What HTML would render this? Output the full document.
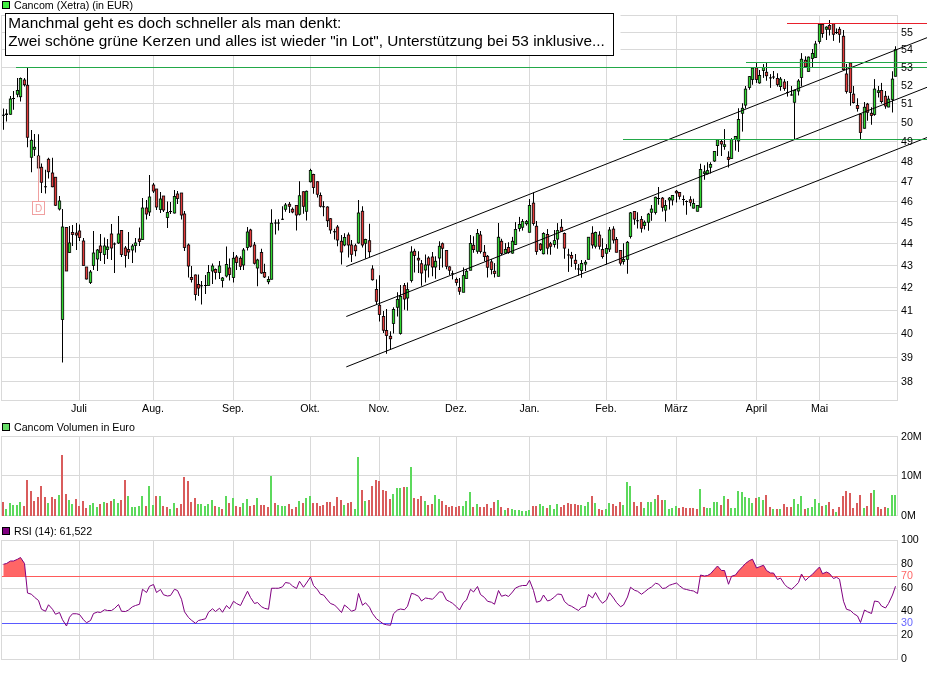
<!DOCTYPE html>
<html><head><meta charset="utf-8"><title>Chart</title>
<style>
html,body{margin:0;padding:0;background:#fff;}
body{width:927px;height:674px;position:relative;overflow:hidden;font-family:"Liberation Sans",sans-serif;}
svg text{font-family:"Liberation Sans",sans-serif;}
</style></head><body>
<svg width="927" height="674" viewBox="0 0 927 674" style="position:absolute;left:0;top:0;will-change:transform">
<rect width="927" height="674" fill="#fff"/>
<g stroke="#d9d9d9" stroke-width="1" fill="none" shape-rendering="crispEdges">
<rect x="1.5" y="15.5" width="896.0" height="385.0"/>
<line x1="79.5" y1="15.5" x2="79.5" y2="400.5"/>
<line x1="153.5" y1="15.5" x2="153.5" y2="400.5"/>
<line x1="233.5" y1="15.5" x2="233.5" y2="400.5"/>
<line x1="310.5" y1="15.5" x2="310.5" y2="400.5"/>
<line x1="379.5" y1="15.5" x2="379.5" y2="400.5"/>
<line x1="456.5" y1="15.5" x2="456.5" y2="400.5"/>
<line x1="529.5" y1="15.5" x2="529.5" y2="400.5"/>
<line x1="606.5" y1="15.5" x2="606.5" y2="400.5"/>
<line x1="676.5" y1="15.5" x2="676.5" y2="400.5"/>
<line x1="756.5" y1="15.5" x2="756.5" y2="400.5"/>
<line x1="819.5" y1="15.5" x2="819.5" y2="400.5"/>
<line x1="1.5" y1="381.5" x2="897.5" y2="381.5"/>
<line x1="1.5" y1="357.5" x2="897.5" y2="357.5"/>
<line x1="1.5" y1="333.5" x2="897.5" y2="333.5"/>
<line x1="1.5" y1="310.5" x2="897.5" y2="310.5"/>
<line x1="1.5" y1="287.5" x2="897.5" y2="287.5"/>
<line x1="1.5" y1="265.5" x2="897.5" y2="265.5"/>
<line x1="1.5" y1="243.5" x2="897.5" y2="243.5"/>
<line x1="1.5" y1="222.5" x2="897.5" y2="222.5"/>
<line x1="1.5" y1="201.5" x2="897.5" y2="201.5"/>
<line x1="1.5" y1="181.5" x2="897.5" y2="181.5"/>
<line x1="1.5" y1="161.5" x2="897.5" y2="161.5"/>
<line x1="1.5" y1="141.5" x2="897.5" y2="141.5"/>
<line x1="1.5" y1="122.5" x2="897.5" y2="122.5"/>
<line x1="1.5" y1="103.5" x2="897.5" y2="103.5"/>
<line x1="1.5" y1="85.5" x2="897.5" y2="85.5"/>
<line x1="1.5" y1="67.5" x2="897.5" y2="67.5"/>
<line x1="1.5" y1="49.5" x2="897.5" y2="49.5"/>
<line x1="1.5" y1="32.5" x2="897.5" y2="32.5"/>
</g>
<g stroke="#d9d9d9" stroke-width="1" fill="none" shape-rendering="crispEdges">
<rect x="1.5" y="436.5" width="896.0" height="79.0"/>
<line x1="79.5" y1="436.5" x2="79.5" y2="515.5"/>
<line x1="153.5" y1="436.5" x2="153.5" y2="515.5"/>
<line x1="233.5" y1="436.5" x2="233.5" y2="515.5"/>
<line x1="310.5" y1="436.5" x2="310.5" y2="515.5"/>
<line x1="379.5" y1="436.5" x2="379.5" y2="515.5"/>
<line x1="456.5" y1="436.5" x2="456.5" y2="515.5"/>
<line x1="529.5" y1="436.5" x2="529.5" y2="515.5"/>
<line x1="606.5" y1="436.5" x2="606.5" y2="515.5"/>
<line x1="676.5" y1="436.5" x2="676.5" y2="515.5"/>
<line x1="756.5" y1="436.5" x2="756.5" y2="515.5"/>
<line x1="819.5" y1="436.5" x2="819.5" y2="515.5"/>
<line x1="1.5" y1="475.5" x2="897.5" y2="475.5"/>
</g>
<g stroke="#d9d9d9" stroke-width="1" fill="none" shape-rendering="crispEdges">
<rect x="1.5" y="540.5" width="896.0" height="119.0"/>
<line x1="79.5" y1="540.5" x2="79.5" y2="659.5"/>
<line x1="153.5" y1="540.5" x2="153.5" y2="659.5"/>
<line x1="233.5" y1="540.5" x2="233.5" y2="659.5"/>
<line x1="310.5" y1="540.5" x2="310.5" y2="659.5"/>
<line x1="379.5" y1="540.5" x2="379.5" y2="659.5"/>
<line x1="456.5" y1="540.5" x2="456.5" y2="659.5"/>
<line x1="529.5" y1="540.5" x2="529.5" y2="659.5"/>
<line x1="606.5" y1="540.5" x2="606.5" y2="659.5"/>
<line x1="676.5" y1="540.5" x2="676.5" y2="659.5"/>
<line x1="756.5" y1="540.5" x2="756.5" y2="659.5"/>
<line x1="819.5" y1="540.5" x2="819.5" y2="659.5"/>
<line x1="1.5" y1="635.5" x2="897.5" y2="635.5"/>
<line x1="1.5" y1="611.5" x2="897.5" y2="611.5"/>
<line x1="1.5" y1="588.5" x2="897.5" y2="588.5"/>
<line x1="1.5" y1="564.5" x2="897.5" y2="564.5"/>
</g>
<g stroke="#000" stroke-width="1">
<line x1="3.5" y1="108.50" x2="3.5" y2="129.75"/>
<line x1="2.0" y1="115.25" x2="5.0" y2="115.25" stroke-width="1.00"/>
<line x1="6.5" y1="109.25" x2="6.5" y2="121.50"/>
<line x1="5.0" y1="114.25" x2="8.0" y2="114.25" stroke-width="1.50"/>
<line x1="10.5" y1="96.00" x2="10.5" y2="114.75"/>
<rect x="9.3" y="99.00" width="2.4" height="15.25" fill="#2fd62f" stroke-width="0.8"/>
<line x1="13.5" y1="91.00" x2="13.5" y2="109.75"/>
<line x1="12.0" y1="98.50" x2="15.0" y2="98.50" stroke-width="1.00"/>
<line x1="17.5" y1="78.00" x2="17.5" y2="97.25"/>
<rect x="16.3" y="90.50" width="2.4" height="3.75" fill="#2fd62f" stroke-width="0.8"/>
<line x1="20.5" y1="77.50" x2="20.5" y2="101.50"/>
<rect x="19.3" y="78.50" width="2.4" height="18.25" fill="#2fd62f" stroke-width="0.8"/>
<line x1="24.5" y1="78.00" x2="24.5" y2="86.50"/>
<rect x="23.3" y="80.00" width="2.4" height="4.75" fill="#e23a3a" stroke-width="0.8"/>
<line x1="27.5" y1="67.25" x2="27.5" y2="147.25"/>
<rect x="26.3" y="85.25" width="2.4" height="52.00" fill="#e23a3a" stroke-width="0.8"/>
<line x1="31.5" y1="130.00" x2="31.5" y2="172.25"/>
<rect x="30.3" y="140.25" width="2.4" height="17.00" fill="#2fd62f" stroke-width="0.8"/>
<line x1="34.5" y1="134.00" x2="34.5" y2="156.00"/>
<rect x="33.3" y="147.25" width="2.4" height="2.00" fill="#2fd62f" stroke-width="0.8"/>
<line x1="38.5" y1="134.25" x2="38.5" y2="168.50"/>
<rect x="37.3" y="156.00" width="2.4" height="12.00" fill="#e23a3a" stroke-width="0.8"/>
<line x1="41.5" y1="163.50" x2="41.5" y2="193.00"/>
<rect x="40.3" y="167.25" width="2.4" height="15.00" fill="#e23a3a" stroke-width="0.8"/>
<line x1="45.5" y1="169.75" x2="45.5" y2="193.50"/>
<line x1="44.0" y1="186.75" x2="47.0" y2="186.75" stroke-width="1.00"/>
<line x1="48.5" y1="157.75" x2="48.5" y2="178.50"/>
<rect x="47.3" y="159.25" width="2.4" height="12.50" fill="#e23a3a" stroke-width="0.8"/>
<line x1="52.5" y1="157.75" x2="52.5" y2="187.25"/>
<rect x="51.3" y="173.00" width="2.4" height="13.75" fill="#e23a3a" stroke-width="0.8"/>
<line x1="55.5" y1="177.25" x2="55.5" y2="206.00"/>
<rect x="54.3" y="177.25" width="2.4" height="28.00" fill="#e23a3a" stroke-width="0.8"/>
<line x1="59.5" y1="196.00" x2="59.5" y2="210.50"/>
<rect x="58.3" y="201.00" width="2.4" height="8.00" fill="#2fd62f" stroke-width="0.8"/>
<line x1="62.5" y1="209.00" x2="62.5" y2="362.50"/>
<rect x="61.3" y="227.00" width="2.4" height="92.50" fill="#2fd62f" stroke-width="0.8"/>
<line x1="66.5" y1="227.50" x2="66.5" y2="271.00"/>
<rect x="65.3" y="227.50" width="2.4" height="43.50" fill="#e23a3a" stroke-width="0.8"/>
<line x1="69.5" y1="226.00" x2="69.5" y2="253.00"/>
<rect x="68.3" y="243.00" width="2.4" height="9.50" fill="#2fd62f" stroke-width="0.8"/>
<line x1="72.5" y1="225.00" x2="72.5" y2="246.00"/>
<rect x="71.3" y="232.50" width="2.4" height="2.00" fill="#e23a3a" stroke-width="0.8"/>
<line x1="76.5" y1="223.00" x2="76.5" y2="250.00"/>
<rect x="75.3" y="233.00" width="2.4" height="2.00" fill="#e23a3a" stroke-width="0.8"/>
<line x1="79.5" y1="224.50" x2="79.5" y2="241.00"/>
<rect x="78.3" y="231.00" width="2.4" height="6.50" fill="#e23a3a" stroke-width="0.8"/>
<line x1="83.5" y1="238.00" x2="83.5" y2="265.50"/>
<rect x="82.3" y="241.00" width="2.4" height="24.50" fill="#e23a3a" stroke-width="0.8"/>
<line x1="86.5" y1="267.00" x2="86.5" y2="279.50"/>
<rect x="85.3" y="267.00" width="2.4" height="12.00" fill="#e23a3a" stroke-width="0.8"/>
<line x1="90.5" y1="270.00" x2="90.5" y2="284.00"/>
<rect x="89.3" y="272.00" width="2.4" height="10.50" fill="#2fd62f" stroke-width="0.8"/>
<line x1="93.5" y1="231.00" x2="93.5" y2="270.00"/>
<rect x="92.3" y="253.00" width="2.4" height="12.50" fill="#2fd62f" stroke-width="0.8"/>
<line x1="97.5" y1="249.00" x2="97.5" y2="271.00"/>
<rect x="96.3" y="250.00" width="2.4" height="9.00" fill="#2fd62f" stroke-width="0.8"/>
<line x1="100.5" y1="234.00" x2="100.5" y2="261.00"/>
<rect x="99.3" y="246.00" width="2.4" height="6.50" fill="#e23a3a" stroke-width="0.8"/>
<line x1="104.5" y1="237.50" x2="104.5" y2="264.00"/>
<rect x="103.3" y="246.00" width="2.4" height="8.50" fill="#2fd62f" stroke-width="0.8"/>
<line x1="107.5" y1="239.00" x2="107.5" y2="259.00"/>
<rect x="106.3" y="247.00" width="2.4" height="2.50" fill="#2fd62f" stroke-width="0.8"/>
<line x1="111.5" y1="224.00" x2="111.5" y2="260.00"/>
<rect x="110.3" y="234.00" width="2.4" height="14.00" fill="#e23a3a" stroke-width="0.8"/>
<line x1="114.5" y1="242.50" x2="114.5" y2="273.00"/>
<line x1="113.0" y1="244.00" x2="116.0" y2="244.00" stroke-width="1.00"/>
<line x1="118.5" y1="216.00" x2="118.5" y2="244.00"/>
<rect x="117.3" y="234.00" width="2.4" height="9.00" fill="#2fd62f" stroke-width="0.8"/>
<line x1="121.5" y1="230.00" x2="121.5" y2="257.00"/>
<rect x="120.3" y="230.50" width="2.4" height="24.00" fill="#e23a3a" stroke-width="0.8"/>
<line x1="125.5" y1="246.00" x2="125.5" y2="267.50"/>
<rect x="124.3" y="248.00" width="2.4" height="7.50" fill="#e23a3a" stroke-width="0.8"/>
<line x1="128.5" y1="232.00" x2="128.5" y2="259.00"/>
<rect x="127.3" y="249.50" width="2.4" height="2.50" fill="#e23a3a" stroke-width="0.8"/>
<line x1="132.5" y1="244.00" x2="132.5" y2="263.00"/>
<rect x="131.3" y="246.00" width="2.4" height="4.00" fill="#2fd62f" stroke-width="0.8"/>
<line x1="135.5" y1="238.00" x2="135.5" y2="252.50"/>
<rect x="134.3" y="243.00" width="2.4" height="2.50" fill="#2fd62f" stroke-width="0.8"/>
<line x1="139.5" y1="227.50" x2="139.5" y2="246.00"/>
<rect x="138.3" y="239.00" width="2.4" height="2.50" fill="#e23a3a" stroke-width="0.8"/>
<line x1="142.5" y1="198.00" x2="142.5" y2="240.00"/>
<rect x="141.3" y="208.00" width="2.4" height="31.50" fill="#2fd62f" stroke-width="0.8"/>
<line x1="146.5" y1="200.00" x2="146.5" y2="219.50"/>
<rect x="145.3" y="208.00" width="2.4" height="6.00" fill="#e23a3a" stroke-width="0.8"/>
<line x1="149.5" y1="175.00" x2="149.5" y2="216.00"/>
<rect x="148.3" y="197.00" width="2.4" height="15.00" fill="#2fd62f" stroke-width="0.8"/>
<line x1="153.5" y1="183.00" x2="153.5" y2="193.00"/>
<rect x="152.3" y="185.00" width="2.4" height="6.00" fill="#e23a3a" stroke-width="0.8"/>
<line x1="156.5" y1="189.00" x2="156.5" y2="210.00"/>
<rect x="155.3" y="189.00" width="2.4" height="18.00" fill="#e23a3a" stroke-width="0.8"/>
<line x1="160.5" y1="192.00" x2="160.5" y2="213.00"/>
<rect x="159.3" y="199.00" width="2.4" height="10.50" fill="#2fd62f" stroke-width="0.8"/>
<line x1="163.5" y1="196.00" x2="163.5" y2="212.00"/>
<rect x="162.3" y="196.00" width="2.4" height="14.00" fill="#e23a3a" stroke-width="0.8"/>
<line x1="167.5" y1="201.50" x2="167.5" y2="228.00"/>
<rect x="166.3" y="212.50" width="2.4" height="5.00" fill="#2fd62f" stroke-width="0.8"/>
<line x1="170.5" y1="202.00" x2="170.5" y2="214.00"/>
<line x1="169.0" y1="211.50" x2="172.0" y2="211.50" stroke-width="1.00"/>
<line x1="174.5" y1="190.00" x2="174.5" y2="213.50"/>
<rect x="173.3" y="196.50" width="2.4" height="16.50" fill="#2fd62f" stroke-width="0.8"/>
<line x1="177.5" y1="191.00" x2="177.5" y2="204.00"/>
<rect x="176.3" y="194.00" width="2.4" height="4.50" fill="#e23a3a" stroke-width="0.8"/>
<line x1="181.5" y1="193.00" x2="181.5" y2="219.50"/>
<rect x="180.3" y="193.00" width="2.4" height="22.00" fill="#e23a3a" stroke-width="0.8"/>
<line x1="184.5" y1="211.00" x2="184.5" y2="251.00"/>
<rect x="183.3" y="214.00" width="2.4" height="33.50" fill="#e23a3a" stroke-width="0.8"/>
<line x1="188.5" y1="243.50" x2="188.5" y2="277.50"/>
<rect x="187.3" y="245.00" width="2.4" height="21.00" fill="#e23a3a" stroke-width="0.8"/>
<line x1="191.5" y1="266.00" x2="191.5" y2="282.50"/>
<rect x="190.3" y="277.50" width="2.4" height="2.00" fill="#e23a3a" stroke-width="0.8"/>
<line x1="195.5" y1="274.50" x2="195.5" y2="300.50"/>
<rect x="194.3" y="275.00" width="2.4" height="19.50" fill="#e23a3a" stroke-width="0.8"/>
<line x1="198.5" y1="274.50" x2="198.5" y2="296.00"/>
<rect x="197.3" y="284.50" width="2.4" height="3.50" fill="#e23a3a" stroke-width="0.8"/>
<line x1="201.5" y1="281.00" x2="201.5" y2="304.50"/>
<line x1="200.0" y1="285.75" x2="203.0" y2="285.75" stroke-width="1.00"/>
<line x1="205.5" y1="275.00" x2="205.5" y2="294.00"/>
<line x1="204.0" y1="285.50" x2="207.0" y2="285.50" stroke-width="1.00"/>
<line x1="208.5" y1="265.00" x2="208.5" y2="285.50"/>
<rect x="207.3" y="272.50" width="2.4" height="13.00" fill="#2fd62f" stroke-width="0.8"/>
<line x1="212.5" y1="263.50" x2="212.5" y2="284.00"/>
<rect x="211.3" y="266.00" width="2.4" height="5.00" fill="#2fd62f" stroke-width="0.8"/>
<line x1="215.5" y1="268.50" x2="215.5" y2="279.50"/>
<rect x="214.3" y="269.50" width="2.4" height="3.00" fill="#e23a3a" stroke-width="0.8"/>
<line x1="219.5" y1="261.00" x2="219.5" y2="279.00"/>
<rect x="218.3" y="266.00" width="2.4" height="6.50" fill="#2fd62f" stroke-width="0.8"/>
<line x1="222.5" y1="277.00" x2="222.5" y2="287.50"/>
<rect x="221.3" y="278.00" width="2.4" height="2.50" fill="#2fd62f" stroke-width="0.8"/>
<line x1="226.5" y1="246.50" x2="226.5" y2="277.50"/>
<rect x="225.3" y="264.50" width="2.4" height="11.50" fill="#2fd62f" stroke-width="0.8"/>
<line x1="229.5" y1="258.50" x2="229.5" y2="280.50"/>
<rect x="228.3" y="268.00" width="2.4" height="6.50" fill="#e23a3a" stroke-width="0.8"/>
<line x1="233.5" y1="252.00" x2="233.5" y2="282.50"/>
<rect x="232.3" y="258.25" width="2.4" height="19.25" fill="#2fd62f" stroke-width="0.8"/>
<line x1="236.5" y1="255.00" x2="236.5" y2="270.00"/>
<rect x="235.3" y="257.00" width="2.4" height="5.50" fill="#e23a3a" stroke-width="0.8"/>
<line x1="240.5" y1="256.25" x2="240.5" y2="270.00"/>
<rect x="239.3" y="258.25" width="2.4" height="8.00" fill="#e23a3a" stroke-width="0.8"/>
<line x1="243.5" y1="248.00" x2="243.5" y2="270.00"/>
<rect x="242.3" y="250.00" width="2.4" height="15.00" fill="#2fd62f" stroke-width="0.8"/>
<line x1="247.5" y1="227.00" x2="247.5" y2="250.50"/>
<rect x="246.3" y="232.00" width="2.4" height="15.50" fill="#2fd62f" stroke-width="0.8"/>
<line x1="250.5" y1="228.75" x2="250.5" y2="247.50"/>
<rect x="249.3" y="230.00" width="2.4" height="16.25" fill="#e23a3a" stroke-width="0.8"/>
<line x1="254.5" y1="242.00" x2="254.5" y2="264.50"/>
<rect x="253.3" y="245.00" width="2.4" height="18.25" fill="#e23a3a" stroke-width="0.8"/>
<line x1="257.5" y1="258.75" x2="257.5" y2="286.25"/>
<rect x="256.3" y="260.00" width="2.4" height="8.00" fill="#2fd62f" stroke-width="0.8"/>
<line x1="261.5" y1="248.75" x2="261.5" y2="273.75"/>
<rect x="260.3" y="252.50" width="2.4" height="20.50" fill="#e23a3a" stroke-width="0.8"/>
<line x1="264.5" y1="263.75" x2="264.5" y2="278.00"/>
<rect x="263.3" y="272.50" width="2.4" height="4.50" fill="#e23a3a" stroke-width="0.8"/>
<line x1="268.5" y1="276.25" x2="268.5" y2="284.25"/>
<rect x="267.3" y="279.50" width="2.4" height="2.25" fill="#2fd62f" stroke-width="0.8"/>
<line x1="271.5" y1="209.25" x2="271.5" y2="279.25"/>
<rect x="270.3" y="223.25" width="2.4" height="56.00" fill="#2fd62f" stroke-width="0.8"/>
<line x1="275.5" y1="219.50" x2="275.5" y2="234.50"/>
<line x1="274.0" y1="223.00" x2="277.0" y2="223.00" stroke-width="1.00"/>
<line x1="278.5" y1="219.25" x2="278.5" y2="230.50"/>
<line x1="277.0" y1="223.00" x2="280.0" y2="223.00" stroke-width="1.00"/>
<line x1="282.5" y1="206.25" x2="282.5" y2="220.00"/>
<line x1="281.0" y1="219.25" x2="284.0" y2="219.25" stroke-width="1.00"/>
<line x1="285.5" y1="203.00" x2="285.5" y2="211.75"/>
<rect x="284.3" y="205.00" width="2.4" height="4.25" fill="#2fd62f" stroke-width="0.8"/>
<line x1="289.5" y1="202.00" x2="289.5" y2="213.00"/>
<rect x="288.3" y="204.25" width="2.4" height="2.00" fill="#e23a3a" stroke-width="0.8"/>
<line x1="292.5" y1="207.50" x2="292.5" y2="213.25"/>
<rect x="291.3" y="209.25" width="2.4" height="2.75" fill="#e23a3a" stroke-width="0.8"/>
<line x1="296.5" y1="205.50" x2="296.5" y2="230.50"/>
<rect x="295.3" y="205.50" width="2.4" height="9.50" fill="#e23a3a" stroke-width="0.8"/>
<line x1="299.5" y1="181.25" x2="299.5" y2="215.50"/>
<rect x="298.3" y="195.75" width="2.4" height="18.50" fill="#2fd62f" stroke-width="0.8"/>
<line x1="303.5" y1="191.25" x2="303.5" y2="213.75"/>
<rect x="302.3" y="191.75" width="2.4" height="14.50" fill="#e23a3a" stroke-width="0.8"/>
<line x1="306.5" y1="190.50" x2="306.5" y2="220.50"/>
<rect x="305.3" y="191.25" width="2.4" height="20.00" fill="#2fd62f" stroke-width="0.8"/>
<line x1="310.5" y1="168.75" x2="310.5" y2="182.50"/>
<rect x="309.3" y="170.50" width="2.4" height="11.25" fill="#2fd62f" stroke-width="0.8"/>
<line x1="313.5" y1="173.75" x2="313.5" y2="193.75"/>
<rect x="312.3" y="174.50" width="2.4" height="13.00" fill="#e23a3a" stroke-width="0.8"/>
<line x1="317.5" y1="181.25" x2="317.5" y2="197.50"/>
<rect x="316.3" y="181.75" width="2.4" height="12.50" fill="#e23a3a" stroke-width="0.8"/>
<line x1="320.5" y1="192.50" x2="320.5" y2="207.50"/>
<rect x="319.3" y="195.50" width="2.4" height="10.75" fill="#e23a3a" stroke-width="0.8"/>
<line x1="323.5" y1="201.25" x2="323.5" y2="216.25"/>
<line x1="322.0" y1="206.75" x2="325.0" y2="206.75" stroke-width="1.00"/>
<line x1="327.5" y1="206.25" x2="327.5" y2="227.00"/>
<rect x="326.3" y="207.00" width="2.4" height="13.75" fill="#e23a3a" stroke-width="0.8"/>
<line x1="330.5" y1="218.00" x2="330.5" y2="233.75"/>
<rect x="329.3" y="218.75" width="2.4" height="11.25" fill="#e23a3a" stroke-width="0.8"/>
<line x1="334.5" y1="228.75" x2="334.5" y2="239.50"/>
<line x1="333.0" y1="231.75" x2="336.0" y2="231.75" stroke-width="1.00"/>
<line x1="337.5" y1="225.00" x2="337.5" y2="246.25"/>
<rect x="336.3" y="227.00" width="2.4" height="13.00" fill="#e23a3a" stroke-width="0.8"/>
<line x1="341.5" y1="235.00" x2="341.5" y2="264.50"/>
<rect x="340.3" y="241.25" width="2.4" height="10.75" fill="#e23a3a" stroke-width="0.8"/>
<line x1="344.5" y1="233.25" x2="344.5" y2="246.25"/>
<rect x="343.3" y="237.50" width="2.4" height="7.50" fill="#2fd62f" stroke-width="0.8"/>
<line x1="348.5" y1="232.50" x2="348.5" y2="257.50"/>
<rect x="347.3" y="235.00" width="2.4" height="10.00" fill="#e23a3a" stroke-width="0.8"/>
<line x1="351.5" y1="240.00" x2="351.5" y2="262.00"/>
<rect x="350.3" y="245.00" width="2.4" height="9.25" fill="#e23a3a" stroke-width="0.8"/>
<line x1="355.5" y1="243.75" x2="355.5" y2="256.25"/>
<rect x="354.3" y="245.75" width="2.4" height="5.00" fill="#e23a3a" stroke-width="0.8"/>
<line x1="358.5" y1="200.00" x2="358.5" y2="243.75"/>
<rect x="357.3" y="213.00" width="2.4" height="30.00" fill="#2fd62f" stroke-width="0.8"/>
<line x1="362.5" y1="206.25" x2="362.5" y2="247.50"/>
<rect x="361.3" y="211.25" width="2.4" height="33.75" fill="#e23a3a" stroke-width="0.8"/>
<line x1="365.5" y1="238.75" x2="365.5" y2="258.75"/>
<rect x="364.3" y="239.50" width="2.4" height="3.75" fill="#2fd62f" stroke-width="0.8"/>
<line x1="369.5" y1="223.75" x2="369.5" y2="257.50"/>
<rect x="368.3" y="240.75" width="2.4" height="11.00" fill="#e23a3a" stroke-width="0.8"/>
<line x1="372.5" y1="265.25" x2="372.5" y2="280.60"/>
<rect x="371.3" y="269.00" width="2.4" height="10.75" fill="#e23a3a" stroke-width="0.8"/>
<line x1="376.5" y1="279.40" x2="376.5" y2="304.40"/>
<rect x="375.3" y="289.40" width="2.4" height="11.85" fill="#e23a3a" stroke-width="0.8"/>
<line x1="379.5" y1="275.25" x2="379.5" y2="321.50"/>
<rect x="378.3" y="305.25" width="2.4" height="9.15" fill="#e23a3a" stroke-width="0.8"/>
<line x1="383.5" y1="311.00" x2="383.5" y2="333.00"/>
<rect x="382.3" y="316.50" width="2.4" height="13.70" fill="#e23a3a" stroke-width="0.8"/>
<line x1="386.5" y1="309.00" x2="386.5" y2="353.75"/>
<rect x="385.3" y="330.50" width="2.4" height="5.00" fill="#e23a3a" stroke-width="0.8"/>
<line x1="390.5" y1="331.25" x2="390.5" y2="349.40"/>
<rect x="389.3" y="336.25" width="2.4" height="2.50" fill="#e23a3a" stroke-width="0.8"/>
<line x1="393.5" y1="307.25" x2="393.5" y2="333.50"/>
<rect x="392.3" y="309.40" width="2.4" height="14.00" fill="#2fd62f" stroke-width="0.8"/>
<line x1="397.5" y1="292.25" x2="397.5" y2="316.50"/>
<rect x="396.3" y="299.40" width="2.4" height="7.85" fill="#2fd62f" stroke-width="0.8"/>
<line x1="400.5" y1="285.00" x2="400.5" y2="334.60"/>
<rect x="399.3" y="296.50" width="2.4" height="36.90" fill="#2fd62f" stroke-width="0.8"/>
<line x1="404.5" y1="283.00" x2="404.5" y2="309.75"/>
<rect x="403.3" y="285.60" width="2.4" height="13.40" fill="#e23a3a" stroke-width="0.8"/>
<line x1="407.5" y1="282.50" x2="407.5" y2="310.60"/>
<rect x="406.3" y="289.60" width="2.4" height="8.40" fill="#2fd62f" stroke-width="0.8"/>
<line x1="411.5" y1="246.25" x2="411.5" y2="282.50"/>
<rect x="410.3" y="252.00" width="2.4" height="28.50" fill="#2fd62f" stroke-width="0.8"/>
<line x1="414.5" y1="248.75" x2="414.5" y2="272.50"/>
<rect x="413.3" y="251.25" width="2.4" height="4.25" fill="#e23a3a" stroke-width="0.8"/>
<line x1="418.5" y1="251.25" x2="418.5" y2="273.00"/>
<rect x="417.3" y="258.25" width="2.4" height="1.75" fill="#e23a3a" stroke-width="0.8"/>
<line x1="421.5" y1="260.00" x2="421.5" y2="285.75"/>
<rect x="420.3" y="263.75" width="2.4" height="9.25" fill="#e23a3a" stroke-width="0.8"/>
<line x1="425.5" y1="254.50" x2="425.5" y2="282.50"/>
<rect x="424.3" y="265.00" width="2.4" height="5.00" fill="#2fd62f" stroke-width="0.8"/>
<line x1="428.5" y1="256.25" x2="428.5" y2="277.50"/>
<rect x="427.3" y="258.00" width="2.4" height="7.00" fill="#e23a3a" stroke-width="0.8"/>
<line x1="432.5" y1="252.00" x2="432.5" y2="276.25"/>
<rect x="431.3" y="257.00" width="2.4" height="10.00" fill="#e23a3a" stroke-width="0.8"/>
<line x1="435.5" y1="256.25" x2="435.5" y2="278.75"/>
<rect x="434.3" y="261.25" width="2.4" height="5.75" fill="#2fd62f" stroke-width="0.8"/>
<line x1="439.5" y1="241.25" x2="439.5" y2="270.00"/>
<rect x="438.3" y="246.25" width="2.4" height="11.75" fill="#2fd62f" stroke-width="0.8"/>
<line x1="442.5" y1="242.50" x2="442.5" y2="267.50"/>
<rect x="441.3" y="243.75" width="2.4" height="4.50" fill="#e23a3a" stroke-width="0.8"/>
<line x1="446.5" y1="250.50" x2="446.5" y2="269.25"/>
<rect x="445.3" y="250.50" width="2.4" height="15.75" fill="#e23a3a" stroke-width="0.8"/>
<line x1="449.5" y1="266.25" x2="449.5" y2="275.00"/>
<rect x="448.3" y="266.90" width="2.4" height="3.35" fill="#e23a3a" stroke-width="0.8"/>
<line x1="452.5" y1="270.60" x2="452.5" y2="279.40"/>
<line x1="451.0" y1="273.75" x2="454.0" y2="273.75" stroke-width="1.00"/>
<line x1="456.5" y1="277.50" x2="456.5" y2="285.60"/>
<rect x="455.3" y="279.40" width="2.4" height="3.10" fill="#e23a3a" stroke-width="0.8"/>
<line x1="459.5" y1="278.00" x2="459.5" y2="294.75"/>
<rect x="458.3" y="287.50" width="2.4" height="3.75" fill="#e23a3a" stroke-width="0.8"/>
<line x1="463.5" y1="267.50" x2="463.5" y2="292.25"/>
<rect x="462.3" y="275.60" width="2.4" height="16.65" fill="#2fd62f" stroke-width="0.8"/>
<line x1="466.5" y1="269.10" x2="466.5" y2="278.75"/>
<rect x="465.3" y="271.25" width="2.4" height="7.25" fill="#2fd62f" stroke-width="0.8"/>
<line x1="470.5" y1="235.00" x2="470.5" y2="270.25"/>
<rect x="469.3" y="243.50" width="2.4" height="26.75" fill="#2fd62f" stroke-width="0.8"/>
<line x1="473.5" y1="236.25" x2="473.5" y2="252.75"/>
<rect x="472.3" y="245.25" width="2.4" height="4.35" fill="#e23a3a" stroke-width="0.8"/>
<line x1="477.5" y1="229.00" x2="477.5" y2="253.75"/>
<rect x="476.3" y="233.50" width="2.4" height="17.75" fill="#2fd62f" stroke-width="0.8"/>
<line x1="480.5" y1="231.00" x2="480.5" y2="253.50"/>
<rect x="479.3" y="235.00" width="2.4" height="16.50" fill="#e23a3a" stroke-width="0.8"/>
<line x1="484.5" y1="245.00" x2="484.5" y2="261.25"/>
<rect x="483.3" y="252.25" width="2.4" height="4.35" fill="#e23a3a" stroke-width="0.8"/>
<line x1="487.5" y1="255.00" x2="487.5" y2="277.50"/>
<rect x="486.3" y="256.25" width="2.4" height="11.00" fill="#e23a3a" stroke-width="0.8"/>
<line x1="491.5" y1="259.00" x2="491.5" y2="274.40"/>
<rect x="490.3" y="261.90" width="2.4" height="7.50" fill="#e23a3a" stroke-width="0.8"/>
<line x1="494.5" y1="263.10" x2="494.5" y2="277.50"/>
<rect x="493.3" y="271.25" width="2.4" height="2.25" fill="#e23a3a" stroke-width="0.8"/>
<line x1="498.5" y1="223.00" x2="498.5" y2="276.50"/>
<rect x="497.3" y="237.25" width="2.4" height="39.00" fill="#2fd62f" stroke-width="0.8"/>
<line x1="501.5" y1="238.75" x2="501.5" y2="255.00"/>
<rect x="500.3" y="241.25" width="2.4" height="12.25" fill="#e23a3a" stroke-width="0.8"/>
<line x1="505.5" y1="243.10" x2="505.5" y2="253.75"/>
<rect x="504.3" y="249.40" width="2.4" height="3.70" fill="#2fd62f" stroke-width="0.8"/>
<line x1="508.5" y1="242.25" x2="508.5" y2="253.75"/>
<rect x="507.3" y="247.50" width="2.4" height="5.00" fill="#e23a3a" stroke-width="0.8"/>
<line x1="512.5" y1="236.90" x2="512.5" y2="253.75"/>
<rect x="511.3" y="241.25" width="2.4" height="11.85" fill="#2fd62f" stroke-width="0.8"/>
<line x1="515.5" y1="222.10" x2="515.5" y2="245.00"/>
<rect x="514.3" y="229.40" width="2.4" height="15.00" fill="#2fd62f" stroke-width="0.8"/>
<line x1="519.5" y1="216.90" x2="519.5" y2="231.50"/>
<rect x="518.3" y="224.40" width="2.4" height="4.10" fill="#2fd62f" stroke-width="0.8"/>
<line x1="522.5" y1="219.00" x2="522.5" y2="230.60"/>
<rect x="521.3" y="221.60" width="2.4" height="5.65" fill="#2fd62f" stroke-width="0.8"/>
<line x1="526.5" y1="220.00" x2="526.5" y2="225.60"/>
<rect x="525.3" y="221.60" width="2.4" height="2.15" fill="#2fd62f" stroke-width="0.8"/>
<line x1="529.5" y1="199.00" x2="529.5" y2="232.50"/>
<rect x="528.3" y="205.40" width="2.4" height="26.85" fill="#2fd62f" stroke-width="0.8"/>
<line x1="533.5" y1="192.50" x2="533.5" y2="225.60"/>
<rect x="532.3" y="203.10" width="2.4" height="20.40" fill="#e23a3a" stroke-width="0.8"/>
<line x1="536.5" y1="221.00" x2="536.5" y2="254.75"/>
<rect x="535.3" y="226.25" width="2.4" height="25.25" fill="#e23a3a" stroke-width="0.8"/>
<line x1="540.5" y1="243.10" x2="540.5" y2="251.00"/>
<rect x="539.3" y="244.10" width="2.4" height="5.30" fill="#e23a3a" stroke-width="0.8"/>
<line x1="543.5" y1="232.25" x2="543.5" y2="254.40"/>
<rect x="542.3" y="233.50" width="2.4" height="20.25" fill="#2fd62f" stroke-width="0.8"/>
<line x1="547.5" y1="229.10" x2="547.5" y2="254.40"/>
<rect x="546.3" y="234.40" width="2.4" height="13.70" fill="#e23a3a" stroke-width="0.8"/>
<line x1="550.5" y1="241.90" x2="550.5" y2="254.75"/>
<rect x="549.3" y="243.75" width="2.4" height="2.50" fill="#e23a3a" stroke-width="0.8"/>
<line x1="554.5" y1="230.00" x2="554.5" y2="247.50"/>
<rect x="553.3" y="240.60" width="2.4" height="3.80" fill="#2fd62f" stroke-width="0.8"/>
<line x1="557.5" y1="223.10" x2="557.5" y2="248.75"/>
<rect x="556.3" y="230.60" width="2.4" height="8.50" fill="#2fd62f" stroke-width="0.8"/>
<line x1="561.5" y1="219.10" x2="561.5" y2="231.90"/>
<rect x="560.3" y="227.25" width="2.4" height="4.00" fill="#e23a3a" stroke-width="0.8"/>
<line x1="564.5" y1="232.50" x2="564.5" y2="258.75"/>
<rect x="563.3" y="233.50" width="2.4" height="14.60" fill="#e23a3a" stroke-width="0.8"/>
<line x1="568.5" y1="248.75" x2="568.5" y2="271.90"/>
<line x1="567.0" y1="255.00" x2="570.0" y2="255.00" stroke-width="1.00"/>
<line x1="571.5" y1="251.90" x2="571.5" y2="266.90"/>
<rect x="570.3" y="255.40" width="2.4" height="2.70" fill="#e23a3a" stroke-width="0.8"/>
<line x1="575.5" y1="254.00" x2="575.5" y2="269.75"/>
<rect x="574.3" y="260.25" width="2.4" height="3.25" fill="#e23a3a" stroke-width="0.8"/>
<line x1="578.5" y1="264.10" x2="578.5" y2="275.60"/>
<line x1="577.0" y1="269.00" x2="580.0" y2="269.00" stroke-width="1.00"/>
<line x1="581.5" y1="260.00" x2="581.5" y2="277.75"/>
<rect x="580.3" y="263.50" width="2.4" height="6.90" fill="#2fd62f" stroke-width="0.8"/>
<line x1="585.5" y1="260.00" x2="585.5" y2="271.00"/>
<rect x="584.3" y="262.25" width="2.4" height="1.85" fill="#2fd62f" stroke-width="0.8"/>
<line x1="588.5" y1="237.25" x2="588.5" y2="259.30"/>
<rect x="587.3" y="237.25" width="2.4" height="22.05" fill="#2fd62f" stroke-width="0.8"/>
<line x1="592.5" y1="226.25" x2="592.5" y2="248.50"/>
<rect x="591.3" y="233.25" width="2.4" height="11.75" fill="#e23a3a" stroke-width="0.8"/>
<line x1="595.5" y1="231.60" x2="595.5" y2="248.50"/>
<rect x="594.3" y="232.50" width="2.4" height="13.75" fill="#2fd62f" stroke-width="0.8"/>
<line x1="599.5" y1="231.25" x2="599.5" y2="249.50"/>
<rect x="598.3" y="235.10" width="2.4" height="11.15" fill="#e23a3a" stroke-width="0.8"/>
<line x1="602.5" y1="238.25" x2="602.5" y2="258.60"/>
<rect x="601.3" y="249.50" width="2.4" height="7.10" fill="#e23a3a" stroke-width="0.8"/>
<line x1="606.5" y1="244.10" x2="606.5" y2="264.50"/>
<rect x="605.3" y="248.50" width="2.4" height="4.75" fill="#2fd62f" stroke-width="0.8"/>
<line x1="609.5" y1="227.00" x2="609.5" y2="252.00"/>
<rect x="608.3" y="230.00" width="2.4" height="19.10" fill="#2fd62f" stroke-width="0.8"/>
<line x1="613.5" y1="226.25" x2="613.5" y2="243.50"/>
<rect x="612.3" y="229.10" width="2.4" height="10.90" fill="#e23a3a" stroke-width="0.8"/>
<line x1="616.5" y1="237.00" x2="616.5" y2="252.25"/>
<rect x="615.3" y="239.50" width="2.4" height="12.75" fill="#e23a3a" stroke-width="0.8"/>
<line x1="620.5" y1="250.40" x2="620.5" y2="265.60"/>
<rect x="619.3" y="250.40" width="2.4" height="12.70" fill="#e23a3a" stroke-width="0.8"/>
<line x1="623.5" y1="243.25" x2="623.5" y2="264.60"/>
<rect x="622.3" y="259.50" width="2.4" height="1.90" fill="#2fd62f" stroke-width="0.8"/>
<line x1="627.5" y1="241.00" x2="627.5" y2="273.75"/>
<rect x="626.3" y="242.25" width="2.4" height="17.05" fill="#2fd62f" stroke-width="0.8"/>
<line x1="630.5" y1="212.00" x2="630.5" y2="238.50"/>
<rect x="629.3" y="212.90" width="2.4" height="23.70" fill="#2fd62f" stroke-width="0.8"/>
<line x1="634.5" y1="211.00" x2="634.5" y2="224.75"/>
<rect x="633.3" y="211.40" width="2.4" height="7.70" fill="#e23a3a" stroke-width="0.8"/>
<line x1="637.5" y1="212.25" x2="637.5" y2="228.50"/>
<line x1="636.0" y1="220.75" x2="639.0" y2="220.75" stroke-width="1.00"/>
<line x1="641.5" y1="216.00" x2="641.5" y2="232.60"/>
<rect x="640.3" y="219.50" width="2.4" height="8.75" fill="#e23a3a" stroke-width="0.8"/>
<line x1="644.5" y1="220.40" x2="644.5" y2="229.50"/>
<rect x="643.3" y="222.25" width="2.4" height="3.15" fill="#2fd62f" stroke-width="0.8"/>
<line x1="648.5" y1="212.90" x2="648.5" y2="230.75"/>
<rect x="647.3" y="214.10" width="2.4" height="8.15" fill="#2fd62f" stroke-width="0.8"/>
<line x1="651.5" y1="205.00" x2="651.5" y2="220.75"/>
<rect x="650.3" y="209.10" width="2.4" height="3.15" fill="#2fd62f" stroke-width="0.8"/>
<line x1="655.5" y1="196.60" x2="655.5" y2="214.50"/>
<rect x="654.3" y="197.25" width="2.4" height="15.25" fill="#2fd62f" stroke-width="0.8"/>
<line x1="658.5" y1="187.00" x2="658.5" y2="204.75"/>
<line x1="657.0" y1="198.50" x2="660.0" y2="198.50" stroke-width="1.00"/>
<line x1="662.5" y1="197.00" x2="662.5" y2="211.60"/>
<rect x="661.3" y="198.10" width="2.4" height="9.15" fill="#e23a3a" stroke-width="0.8"/>
<line x1="665.5" y1="200.00" x2="665.5" y2="221.60"/>
<rect x="664.3" y="205.40" width="2.4" height="4.70" fill="#2fd62f" stroke-width="0.8"/>
<line x1="669.5" y1="197.00" x2="669.5" y2="209.50"/>
<rect x="668.3" y="198.10" width="2.4" height="1.90" fill="#2fd62f" stroke-width="0.8"/>
<line x1="672.5" y1="195.00" x2="672.5" y2="205.40"/>
<rect x="671.3" y="195.40" width="2.4" height="4.60" fill="#2fd62f" stroke-width="0.8"/>
<line x1="676.5" y1="190.00" x2="676.5" y2="202.50"/>
<rect x="675.3" y="191.25" width="2.4" height="1.65" fill="#e23a3a" stroke-width="0.8"/>
<line x1="679.5" y1="192.25" x2="679.5" y2="199.50"/>
<rect x="678.3" y="192.50" width="2.4" height="3.75" fill="#e23a3a" stroke-width="0.8"/>
<line x1="683.5" y1="195.40" x2="683.5" y2="205.40"/>
<line x1="682.0" y1="199.50" x2="685.0" y2="199.50" stroke-width="1.00"/>
<line x1="686.5" y1="200.40" x2="686.5" y2="214.75"/>
<line x1="685.0" y1="201.50" x2="688.0" y2="201.50" stroke-width="1.00"/>
<line x1="690.5" y1="196.25" x2="690.5" y2="206.25"/>
<rect x="689.3" y="199.75" width="2.4" height="2.50" fill="#e23a3a" stroke-width="0.8"/>
<line x1="693.5" y1="198.75" x2="693.5" y2="208.50"/>
<rect x="692.3" y="203.50" width="2.4" height="4.60" fill="#2fd62f" stroke-width="0.8"/>
<line x1="697.5" y1="205.40" x2="697.5" y2="211.50"/>
<rect x="696.3" y="205.40" width="2.4" height="5.85" fill="#2fd62f" stroke-width="0.8"/>
<line x1="700.5" y1="163.75" x2="700.5" y2="207.50"/>
<rect x="699.3" y="169.40" width="2.4" height="37.85" fill="#2fd62f" stroke-width="0.8"/>
<line x1="704.5" y1="165.25" x2="704.5" y2="179.75"/>
<rect x="703.3" y="171.90" width="2.4" height="1.60" fill="#2fd62f" stroke-width="0.8"/>
<line x1="707.5" y1="162.25" x2="707.5" y2="174.40"/>
<rect x="706.3" y="170.60" width="2.4" height="3.15" fill="#2fd62f" stroke-width="0.8"/>
<line x1="710.5" y1="162.25" x2="710.5" y2="173.50"/>
<rect x="709.3" y="164.40" width="2.4" height="2.85" fill="#2fd62f" stroke-width="0.8"/>
<line x1="714.5" y1="151.00" x2="714.5" y2="161.90"/>
<rect x="713.3" y="151.50" width="2.4" height="9.50" fill="#2fd62f" stroke-width="0.8"/>
<line x1="717.5" y1="139.40" x2="717.5" y2="156.00"/>
<rect x="716.3" y="139.75" width="2.4" height="5.85" fill="#2fd62f" stroke-width="0.8"/>
<line x1="721.5" y1="140.00" x2="721.5" y2="156.00"/>
<rect x="720.3" y="141.50" width="2.4" height="2.50" fill="#e23a3a" stroke-width="0.8"/>
<line x1="724.5" y1="129.10" x2="724.5" y2="149.75"/>
<rect x="723.3" y="144.75" width="2.4" height="1.75" fill="#2fd62f" stroke-width="0.8"/>
<line x1="728.5" y1="151.25" x2="728.5" y2="167.50"/>
<rect x="727.3" y="157.25" width="2.4" height="2.15" fill="#e23a3a" stroke-width="0.8"/>
<line x1="731.5" y1="138.10" x2="731.5" y2="158.75"/>
<rect x="730.3" y="139.40" width="2.4" height="19.10" fill="#2fd62f" stroke-width="0.8"/>
<line x1="735.5" y1="136.00" x2="735.5" y2="150.60"/>
<rect x="734.3" y="136.50" width="2.4" height="2.90" fill="#2fd62f" stroke-width="0.8"/>
<line x1="738.5" y1="108.25" x2="738.5" y2="151.90"/>
<rect x="737.3" y="119.50" width="2.4" height="21.50" fill="#2fd62f" stroke-width="0.8"/>
<line x1="742.5" y1="103.25" x2="742.5" y2="131.60"/>
<rect x="741.3" y="108.25" width="2.4" height="5.00" fill="#2fd62f" stroke-width="0.8"/>
<line x1="745.5" y1="86.00" x2="745.5" y2="108.50"/>
<rect x="744.3" y="89.10" width="2.4" height="16.00" fill="#2fd62f" stroke-width="0.8"/>
<line x1="749.5" y1="76.00" x2="749.5" y2="89.75"/>
<rect x="748.3" y="76.60" width="2.4" height="10.90" fill="#2fd62f" stroke-width="0.8"/>
<line x1="752.5" y1="67.90" x2="752.5" y2="84.75"/>
<rect x="751.3" y="68.10" width="2.4" height="11.40" fill="#2fd62f" stroke-width="0.8"/>
<line x1="756.5" y1="62.90" x2="756.5" y2="82.90"/>
<rect x="755.3" y="67.90" width="2.4" height="11.60" fill="#e23a3a" stroke-width="0.8"/>
<line x1="759.5" y1="70.00" x2="759.5" y2="83.75"/>
<rect x="758.3" y="75.40" width="2.4" height="7.50" fill="#2fd62f" stroke-width="0.8"/>
<line x1="763.5" y1="64.10" x2="763.5" y2="77.90"/>
<rect x="762.3" y="67.50" width="2.4" height="2.90" fill="#2fd62f" stroke-width="0.8"/>
<line x1="766.5" y1="62.90" x2="766.5" y2="80.75"/>
<rect x="765.3" y="72.25" width="2.4" height="3.50" fill="#e23a3a" stroke-width="0.8"/>
<line x1="770.5" y1="74.10" x2="770.5" y2="87.90"/>
<line x1="769.0" y1="77.90" x2="772.0" y2="77.90" stroke-width="1.00"/>
<line x1="773.5" y1="71.00" x2="773.5" y2="79.10"/>
<line x1="772.0" y1="77.00" x2="775.0" y2="77.00" stroke-width="1.00"/>
<line x1="777.5" y1="73.25" x2="777.5" y2="86.60"/>
<rect x="776.3" y="78.50" width="2.4" height="6.00" fill="#e23a3a" stroke-width="0.8"/>
<line x1="780.5" y1="77.00" x2="780.5" y2="90.75"/>
<rect x="779.3" y="79.10" width="2.4" height="7.50" fill="#2fd62f" stroke-width="0.8"/>
<line x1="784.5" y1="79.10" x2="784.5" y2="90.75"/>
<rect x="783.3" y="82.00" width="2.4" height="6.50" fill="#e23a3a" stroke-width="0.8"/>
<line x1="787.5" y1="81.00" x2="787.5" y2="96.60"/>
<line x1="786.0" y1="92.50" x2="789.0" y2="92.50" stroke-width="1.00"/>
<line x1="791.5" y1="86.00" x2="791.5" y2="95.75"/>
<line x1="790.0" y1="95.00" x2="793.0" y2="95.00" stroke-width="1.00"/>
<line x1="794.5" y1="89.75" x2="794.5" y2="139.40"/>
<rect x="793.3" y="90.40" width="2.4" height="11.85" fill="#2fd62f" stroke-width="0.8"/>
<line x1="798.5" y1="79.10" x2="798.5" y2="95.50"/>
<rect x="797.3" y="81.00" width="2.4" height="10.00" fill="#2fd62f" stroke-width="0.8"/>
<line x1="801.5" y1="53.10" x2="801.5" y2="86.50"/>
<rect x="800.3" y="59.25" width="2.4" height="18.25" fill="#2fd62f" stroke-width="0.8"/>
<line x1="805.5" y1="56.25" x2="805.5" y2="67.10"/>
<rect x="804.3" y="60.25" width="2.4" height="6.50" fill="#e23a3a" stroke-width="0.8"/>
<line x1="808.5" y1="56.50" x2="808.5" y2="71.60"/>
<rect x="807.3" y="57.10" width="2.4" height="14.30" fill="#2fd62f" stroke-width="0.8"/>
<line x1="812.5" y1="49.00" x2="812.5" y2="67.10"/>
<rect x="811.3" y="53.40" width="2.4" height="5.00" fill="#2fd62f" stroke-width="0.8"/>
<line x1="815.5" y1="40.90" x2="815.5" y2="57.75"/>
<rect x="814.3" y="44.00" width="2.4" height="13.50" fill="#2fd62f" stroke-width="0.8"/>
<line x1="819.5" y1="23.75" x2="819.5" y2="43.75"/>
<rect x="818.3" y="24.25" width="2.4" height="17.25" fill="#2fd62f" stroke-width="0.8"/>
<line x1="822.5" y1="23.75" x2="822.5" y2="37.75"/>
<rect x="821.3" y="24.25" width="2.4" height="9.15" fill="#e23a3a" stroke-width="0.8"/>
<line x1="826.5" y1="26.25" x2="826.5" y2="40.00"/>
<rect x="825.3" y="27.10" width="2.4" height="2.15" fill="#2fd62f" stroke-width="0.8"/>
<line x1="829.5" y1="20.00" x2="829.5" y2="35.50"/>
<rect x="828.3" y="25.50" width="2.4" height="3.75" fill="#e23a3a" stroke-width="0.8"/>
<line x1="833.5" y1="23.75" x2="833.5" y2="40.90"/>
<rect x="832.3" y="23.75" width="2.4" height="10.50" fill="#e23a3a" stroke-width="0.8"/>
<line x1="836.5" y1="28.40" x2="836.5" y2="34.00"/>
<line x1="835.0" y1="32.50" x2="838.0" y2="32.50" stroke-width="1.00"/>
<line x1="839.5" y1="26.90" x2="839.5" y2="42.75"/>
<rect x="838.3" y="29.25" width="2.4" height="5.00" fill="#e23a3a" stroke-width="0.8"/>
<line x1="843.5" y1="30.00" x2="843.5" y2="70.25"/>
<rect x="842.3" y="36.25" width="2.4" height="33.35" fill="#e23a3a" stroke-width="0.8"/>
<line x1="846.5" y1="64.00" x2="846.5" y2="93.60"/>
<rect x="845.3" y="74.00" width="2.4" height="17.40" fill="#e23a3a" stroke-width="0.8"/>
<line x1="850.5" y1="63.00" x2="850.5" y2="105.75"/>
<rect x="849.3" y="63.00" width="2.4" height="29.40" fill="#e23a3a" stroke-width="0.8"/>
<line x1="853.5" y1="86.00" x2="853.5" y2="103.50"/>
<rect x="852.3" y="94.10" width="2.4" height="8.50" fill="#e23a3a" stroke-width="0.8"/>
<line x1="857.5" y1="98.25" x2="857.5" y2="111.60"/>
<rect x="856.3" y="105.40" width="2.4" height="3.10" fill="#e23a3a" stroke-width="0.8"/>
<line x1="860.5" y1="113.50" x2="860.5" y2="139.10"/>
<rect x="859.3" y="114.10" width="2.4" height="18.40" fill="#e23a3a" stroke-width="0.8"/>
<line x1="864.5" y1="102.00" x2="864.5" y2="128.50"/>
<rect x="863.3" y="107.25" width="2.4" height="21.00" fill="#2fd62f" stroke-width="0.8"/>
<line x1="867.5" y1="102.90" x2="867.5" y2="120.75"/>
<rect x="866.3" y="104.10" width="2.4" height="8.15" fill="#e23a3a" stroke-width="0.8"/>
<line x1="871.5" y1="107.25" x2="871.5" y2="124.75"/>
<rect x="870.3" y="113.25" width="2.4" height="2.15" fill="#e23a3a" stroke-width="0.8"/>
<line x1="874.5" y1="79.10" x2="874.5" y2="115.75"/>
<rect x="873.3" y="89.10" width="2.4" height="25.40" fill="#2fd62f" stroke-width="0.8"/>
<line x1="878.5" y1="86.00" x2="878.5" y2="97.50"/>
<rect x="877.3" y="90.75" width="2.4" height="1.75" fill="#2fd62f" stroke-width="0.8"/>
<line x1="881.5" y1="82.90" x2="881.5" y2="103.50"/>
<rect x="880.3" y="90.40" width="2.4" height="11.20" fill="#e23a3a" stroke-width="0.8"/>
<line x1="885.5" y1="91.00" x2="885.5" y2="108.75"/>
<rect x="884.3" y="96.25" width="2.4" height="9.75" fill="#e23a3a" stroke-width="0.8"/>
<line x1="888.5" y1="95.75" x2="888.5" y2="107.25"/>
<rect x="887.3" y="99.10" width="2.4" height="7.90" fill="#2fd62f" stroke-width="0.8"/>
<line x1="892.5" y1="71.25" x2="892.5" y2="112.50"/>
<rect x="891.3" y="79.10" width="2.4" height="20.40" fill="#2fd62f" stroke-width="0.8"/>
<line x1="895.5" y1="46.25" x2="895.5" y2="76.50"/>
<rect x="894.3" y="49.60" width="2.4" height="26.65" fill="#2fd62f" stroke-width="0.8"/>
</g>
<g stroke="#000" stroke-width="1">
<line x1="346.3" y1="266.5" x2="927" y2="37.7"/>
<line x1="346.3" y1="316.5" x2="927" y2="87.3"/>
<line x1="346.3" y1="366.9" x2="927" y2="137.5"/>
</g>
<g stroke="#22a848" stroke-width="1" shape-rendering="crispEdges">
<line x1="16" y1="67.5" x2="927" y2="67.5"/>
<line x1="746" y1="62.5" x2="927" y2="62.5"/>
<line x1="623" y1="139.5" x2="927" y2="139.5"/>
</g>
<line x1="787" y1="23.5" x2="927" y2="23.5" stroke="#e8202c" stroke-width="1" shape-rendering="crispEdges"/>
<g stroke="#f0a0a0" fill="none" stroke-width="1" shape-rendering="crispEdges"><line x1="38.5" y1="156" x2="38.5" y2="201"/><rect x="32.5" y="201.5" width="12" height="13" fill="#fff"/></g>
<text x="38.5" y="212" font-size="10" fill="#f0a0a0" text-anchor="middle" >D</text>
<g shape-rendering="crispEdges">
<rect x="2" y="502" width="2" height="14" fill="#d95c5c"/>
<rect x="5" y="509" width="2" height="7" fill="#5cd95c"/>
<rect x="9" y="503" width="2" height="13" fill="#5cd95c"/>
<rect x="12" y="505" width="2" height="11" fill="#5cd95c"/>
<rect x="16" y="505" width="2" height="11" fill="#5cd95c"/>
<rect x="19" y="502" width="2" height="14" fill="#5cd95c"/>
<rect x="23" y="506" width="2" height="10" fill="#d95c5c"/>
<rect x="26" y="480" width="2" height="36" fill="#d95c5c"/>
<rect x="30" y="491" width="2" height="25" fill="#d95c5c"/>
<rect x="33" y="501" width="2" height="15" fill="#d95c5c"/>
<rect x="37" y="497" width="2" height="19" fill="#d95c5c"/>
<rect x="40" y="486" width="2" height="30" fill="#d95c5c"/>
<rect x="44" y="497" width="2" height="19" fill="#d95c5c"/>
<rect x="47" y="503" width="2" height="13" fill="#5cd95c"/>
<rect x="51" y="497" width="2" height="19" fill="#d95c5c"/>
<rect x="54" y="499" width="2" height="17" fill="#d95c5c"/>
<rect x="58" y="495" width="2" height="21" fill="#5cd95c"/>
<rect x="61" y="455" width="2" height="61" fill="#d95c5c"/>
<rect x="65" y="494" width="2" height="22" fill="#d95c5c"/>
<rect x="68" y="500" width="2" height="16" fill="#5cd95c"/>
<rect x="71" y="504" width="2" height="12" fill="#5cd95c"/>
<rect x="75" y="499" width="2" height="17" fill="#d95c5c"/>
<rect x="78" y="506" width="2" height="10" fill="#d95c5c"/>
<rect x="82" y="501" width="2" height="15" fill="#d95c5c"/>
<rect x="85" y="508" width="2" height="8" fill="#d95c5c"/>
<rect x="89" y="505" width="2" height="11" fill="#5cd95c"/>
<rect x="92" y="503" width="2" height="13" fill="#5cd95c"/>
<rect x="96" y="507" width="2" height="9" fill="#5cd95c"/>
<rect x="99" y="504" width="2" height="12" fill="#d95c5c"/>
<rect x="103" y="502" width="2" height="14" fill="#5cd95c"/>
<rect x="106" y="503" width="2" height="13" fill="#d95c5c"/>
<rect x="110" y="501" width="2" height="15" fill="#d95c5c"/>
<rect x="113" y="499" width="2" height="17" fill="#5cd95c"/>
<rect x="117" y="503" width="2" height="13" fill="#5cd95c"/>
<rect x="120" y="500" width="2" height="16" fill="#d95c5c"/>
<rect x="124" y="480" width="2" height="36" fill="#d95c5c"/>
<rect x="127" y="496" width="2" height="20" fill="#5cd95c"/>
<rect x="131" y="507" width="2" height="9" fill="#5cd95c"/>
<rect x="134" y="507" width="2" height="9" fill="#5cd95c"/>
<rect x="138" y="506" width="2" height="10" fill="#5cd95c"/>
<rect x="141" y="496" width="2" height="20" fill="#5cd95c"/>
<rect x="145" y="506" width="2" height="10" fill="#d95c5c"/>
<rect x="148" y="486" width="2" height="30" fill="#5cd95c"/>
<rect x="152" y="505" width="2" height="11" fill="#5cd95c"/>
<rect x="155" y="496" width="2" height="20" fill="#d95c5c"/>
<rect x="159" y="496" width="2" height="20" fill="#5cd95c"/>
<rect x="162" y="506" width="2" height="10" fill="#d95c5c"/>
<rect x="166" y="507" width="2" height="9" fill="#d95c5c"/>
<rect x="169" y="509" width="2" height="7" fill="#5cd95c"/>
<rect x="173" y="503" width="2" height="13" fill="#5cd95c"/>
<rect x="176" y="508" width="2" height="8" fill="#d95c5c"/>
<rect x="180" y="504" width="2" height="12" fill="#d95c5c"/>
<rect x="183" y="477" width="2" height="39" fill="#d95c5c"/>
<rect x="187" y="481" width="2" height="35" fill="#d95c5c"/>
<rect x="190" y="502" width="2" height="14" fill="#d95c5c"/>
<rect x="194" y="498" width="2" height="18" fill="#d95c5c"/>
<rect x="197" y="504" width="2" height="12" fill="#5cd95c"/>
<rect x="200" y="504" width="2" height="12" fill="#5cd95c"/>
<rect x="204" y="506" width="2" height="10" fill="#5cd95c"/>
<rect x="207" y="504" width="2" height="12" fill="#5cd95c"/>
<rect x="211" y="500" width="2" height="16" fill="#5cd95c"/>
<rect x="214" y="506" width="2" height="10" fill="#d95c5c"/>
<rect x="218" y="507" width="2" height="9" fill="#5cd95c"/>
<rect x="221" y="509" width="2" height="7" fill="#d95c5c"/>
<rect x="225" y="496" width="2" height="20" fill="#5cd95c"/>
<rect x="228" y="503" width="2" height="13" fill="#d95c5c"/>
<rect x="232" y="498" width="2" height="18" fill="#5cd95c"/>
<rect x="235" y="506" width="2" height="10" fill="#d95c5c"/>
<rect x="239" y="507" width="2" height="9" fill="#d95c5c"/>
<rect x="242" y="503" width="2" height="13" fill="#5cd95c"/>
<rect x="246" y="499" width="2" height="17" fill="#5cd95c"/>
<rect x="249" y="506" width="2" height="10" fill="#d95c5c"/>
<rect x="253" y="505" width="2" height="11" fill="#d95c5c"/>
<rect x="256" y="498" width="2" height="18" fill="#5cd95c"/>
<rect x="260" y="505" width="2" height="11" fill="#d95c5c"/>
<rect x="263" y="505" width="2" height="11" fill="#d95c5c"/>
<rect x="267" y="507" width="2" height="9" fill="#d95c5c"/>
<rect x="270" y="476" width="2" height="40" fill="#5cd95c"/>
<rect x="274" y="503" width="2" height="13" fill="#d95c5c"/>
<rect x="277" y="505" width="2" height="11" fill="#5cd95c"/>
<rect x="281" y="506" width="2" height="10" fill="#5cd95c"/>
<rect x="284" y="506" width="2" height="10" fill="#5cd95c"/>
<rect x="288" y="504" width="2" height="12" fill="#d95c5c"/>
<rect x="291" y="509" width="2" height="7" fill="#d95c5c"/>
<rect x="295" y="507" width="2" height="9" fill="#d95c5c"/>
<rect x="298" y="501" width="2" height="15" fill="#5cd95c"/>
<rect x="302" y="503" width="2" height="13" fill="#d95c5c"/>
<rect x="305" y="498" width="2" height="18" fill="#5cd95c"/>
<rect x="309" y="496" width="2" height="20" fill="#5cd95c"/>
<rect x="312" y="503" width="2" height="13" fill="#d95c5c"/>
<rect x="316" y="503" width="2" height="13" fill="#d95c5c"/>
<rect x="319" y="506" width="2" height="10" fill="#d95c5c"/>
<rect x="322" y="505" width="2" height="11" fill="#d95c5c"/>
<rect x="326" y="502" width="2" height="14" fill="#d95c5c"/>
<rect x="329" y="502" width="2" height="14" fill="#d95c5c"/>
<rect x="333" y="506" width="2" height="10" fill="#d95c5c"/>
<rect x="336" y="497" width="2" height="19" fill="#d95c5c"/>
<rect x="340" y="500" width="2" height="16" fill="#d95c5c"/>
<rect x="343" y="505" width="2" height="11" fill="#5cd95c"/>
<rect x="347" y="503" width="2" height="13" fill="#d95c5c"/>
<rect x="350" y="502" width="2" height="14" fill="#d95c5c"/>
<rect x="354" y="509" width="2" height="7" fill="#5cd95c"/>
<rect x="357" y="457" width="2" height="59" fill="#5cd95c"/>
<rect x="361" y="490" width="2" height="26" fill="#d95c5c"/>
<rect x="364" y="501" width="2" height="15" fill="#5cd95c"/>
<rect x="368" y="500" width="2" height="16" fill="#d95c5c"/>
<rect x="371" y="486" width="2" height="30" fill="#d95c5c"/>
<rect x="375" y="480" width="2" height="36" fill="#d95c5c"/>
<rect x="378" y="481" width="2" height="35" fill="#d95c5c"/>
<rect x="382" y="490" width="2" height="26" fill="#d95c5c"/>
<rect x="385" y="491" width="2" height="25" fill="#d95c5c"/>
<rect x="389" y="499" width="2" height="17" fill="#d95c5c"/>
<rect x="392" y="494" width="2" height="22" fill="#5cd95c"/>
<rect x="396" y="488" width="2" height="28" fill="#5cd95c"/>
<rect x="399" y="488" width="2" height="28" fill="#5cd95c"/>
<rect x="403" y="487" width="2" height="29" fill="#d95c5c"/>
<rect x="406" y="487" width="2" height="29" fill="#5cd95c"/>
<rect x="410" y="467" width="2" height="49" fill="#5cd95c"/>
<rect x="413" y="498" width="2" height="18" fill="#d95c5c"/>
<rect x="417" y="499" width="2" height="17" fill="#d95c5c"/>
<rect x="420" y="496" width="2" height="20" fill="#d95c5c"/>
<rect x="424" y="501" width="2" height="15" fill="#5cd95c"/>
<rect x="427" y="505" width="2" height="11" fill="#d95c5c"/>
<rect x="431" y="504" width="2" height="12" fill="#d95c5c"/>
<rect x="434" y="495" width="2" height="21" fill="#5cd95c"/>
<rect x="438" y="499" width="2" height="17" fill="#5cd95c"/>
<rect x="441" y="501" width="2" height="15" fill="#d95c5c"/>
<rect x="445" y="505" width="2" height="11" fill="#d95c5c"/>
<rect x="448" y="507" width="2" height="9" fill="#d95c5c"/>
<rect x="451" y="506" width="2" height="10" fill="#d95c5c"/>
<rect x="455" y="507" width="2" height="9" fill="#d95c5c"/>
<rect x="458" y="506" width="2" height="10" fill="#d95c5c"/>
<rect x="462" y="506" width="2" height="10" fill="#5cd95c"/>
<rect x="465" y="501" width="2" height="15" fill="#5cd95c"/>
<rect x="469" y="492" width="2" height="24" fill="#5cd95c"/>
<rect x="472" y="507" width="2" height="9" fill="#d95c5c"/>
<rect x="476" y="504" width="2" height="12" fill="#5cd95c"/>
<rect x="479" y="507" width="2" height="9" fill="#d95c5c"/>
<rect x="483" y="507" width="2" height="9" fill="#d95c5c"/>
<rect x="486" y="504" width="2" height="12" fill="#d95c5c"/>
<rect x="490" y="508" width="2" height="8" fill="#d95c5c"/>
<rect x="493" y="502" width="2" height="14" fill="#d95c5c"/>
<rect x="497" y="500" width="2" height="16" fill="#5cd95c"/>
<rect x="500" y="507" width="2" height="9" fill="#d95c5c"/>
<rect x="504" y="510" width="2" height="6" fill="#5cd95c"/>
<rect x="507" y="508" width="2" height="8" fill="#d95c5c"/>
<rect x="511" y="509" width="2" height="7" fill="#5cd95c"/>
<rect x="514" y="510" width="2" height="6" fill="#5cd95c"/>
<rect x="518" y="510" width="2" height="6" fill="#5cd95c"/>
<rect x="521" y="511" width="2" height="5" fill="#5cd95c"/>
<rect x="525" y="511" width="2" height="5" fill="#5cd95c"/>
<rect x="528" y="510" width="2" height="6" fill="#5cd95c"/>
<rect x="532" y="506" width="2" height="10" fill="#d95c5c"/>
<rect x="535" y="506" width="2" height="10" fill="#d95c5c"/>
<rect x="539" y="504" width="2" height="12" fill="#5cd95c"/>
<rect x="542" y="506" width="2" height="10" fill="#5cd95c"/>
<rect x="546" y="508" width="2" height="8" fill="#d95c5c"/>
<rect x="549" y="505" width="2" height="11" fill="#5cd95c"/>
<rect x="553" y="509" width="2" height="7" fill="#5cd95c"/>
<rect x="556" y="504" width="2" height="12" fill="#5cd95c"/>
<rect x="560" y="507" width="2" height="9" fill="#d95c5c"/>
<rect x="563" y="505" width="2" height="11" fill="#d95c5c"/>
<rect x="567" y="503" width="2" height="13" fill="#d95c5c"/>
<rect x="570" y="504" width="2" height="12" fill="#d95c5c"/>
<rect x="574" y="504" width="2" height="12" fill="#d95c5c"/>
<rect x="577" y="505" width="2" height="11" fill="#d95c5c"/>
<rect x="580" y="505" width="2" height="11" fill="#5cd95c"/>
<rect x="584" y="506" width="2" height="10" fill="#5cd95c"/>
<rect x="587" y="502" width="2" height="14" fill="#5cd95c"/>
<rect x="591" y="496" width="2" height="20" fill="#d95c5c"/>
<rect x="594" y="503" width="2" height="13" fill="#5cd95c"/>
<rect x="598" y="509" width="2" height="7" fill="#d95c5c"/>
<rect x="601" y="510" width="2" height="6" fill="#d95c5c"/>
<rect x="605" y="509" width="2" height="7" fill="#5cd95c"/>
<rect x="608" y="503" width="2" height="13" fill="#5cd95c"/>
<rect x="612" y="504" width="2" height="12" fill="#d95c5c"/>
<rect x="615" y="506" width="2" height="10" fill="#d95c5c"/>
<rect x="619" y="502" width="2" height="14" fill="#d95c5c"/>
<rect x="622" y="505" width="2" height="11" fill="#5cd95c"/>
<rect x="626" y="482" width="2" height="34" fill="#5cd95c"/>
<rect x="629" y="486" width="2" height="30" fill="#5cd95c"/>
<rect x="633" y="502" width="2" height="14" fill="#d95c5c"/>
<rect x="636" y="506" width="2" height="10" fill="#d95c5c"/>
<rect x="640" y="502" width="2" height="14" fill="#d95c5c"/>
<rect x="643" y="508" width="2" height="8" fill="#5cd95c"/>
<rect x="647" y="502" width="2" height="14" fill="#5cd95c"/>
<rect x="650" y="502" width="2" height="14" fill="#5cd95c"/>
<rect x="654" y="499" width="2" height="17" fill="#5cd95c"/>
<rect x="657" y="495" width="2" height="21" fill="#d95c5c"/>
<rect x="661" y="500" width="2" height="16" fill="#d95c5c"/>
<rect x="664" y="500" width="2" height="16" fill="#5cd95c"/>
<rect x="668" y="509" width="2" height="7" fill="#5cd95c"/>
<rect x="671" y="508" width="2" height="8" fill="#5cd95c"/>
<rect x="675" y="506" width="2" height="10" fill="#5cd95c"/>
<rect x="678" y="508" width="2" height="8" fill="#d95c5c"/>
<rect x="682" y="507" width="2" height="9" fill="#d95c5c"/>
<rect x="685" y="508" width="2" height="8" fill="#d95c5c"/>
<rect x="689" y="508" width="2" height="8" fill="#d95c5c"/>
<rect x="692" y="508" width="2" height="8" fill="#d95c5c"/>
<rect x="696" y="509" width="2" height="7" fill="#d95c5c"/>
<rect x="699" y="489" width="2" height="27" fill="#5cd95c"/>
<rect x="703" y="507" width="2" height="9" fill="#d95c5c"/>
<rect x="706" y="508" width="2" height="8" fill="#5cd95c"/>
<rect x="709" y="508" width="2" height="8" fill="#5cd95c"/>
<rect x="713" y="502" width="2" height="14" fill="#5cd95c"/>
<rect x="716" y="502" width="2" height="14" fill="#5cd95c"/>
<rect x="720" y="505" width="2" height="11" fill="#d95c5c"/>
<rect x="723" y="496" width="2" height="20" fill="#5cd95c"/>
<rect x="727" y="499" width="2" height="17" fill="#d95c5c"/>
<rect x="730" y="508" width="2" height="8" fill="#5cd95c"/>
<rect x="734" y="508" width="2" height="8" fill="#5cd95c"/>
<rect x="737" y="491" width="2" height="25" fill="#5cd95c"/>
<rect x="741" y="492" width="2" height="24" fill="#5cd95c"/>
<rect x="744" y="497" width="2" height="19" fill="#5cd95c"/>
<rect x="748" y="498" width="2" height="18" fill="#5cd95c"/>
<rect x="751" y="503" width="2" height="13" fill="#5cd95c"/>
<rect x="755" y="498" width="2" height="18" fill="#d95c5c"/>
<rect x="758" y="497" width="2" height="19" fill="#5cd95c"/>
<rect x="762" y="500" width="2" height="16" fill="#5cd95c"/>
<rect x="765" y="495" width="2" height="21" fill="#d95c5c"/>
<rect x="769" y="507" width="2" height="9" fill="#d95c5c"/>
<rect x="772" y="509" width="2" height="7" fill="#5cd95c"/>
<rect x="776" y="509" width="2" height="7" fill="#d95c5c"/>
<rect x="779" y="509" width="2" height="7" fill="#5cd95c"/>
<rect x="783" y="504" width="2" height="12" fill="#d95c5c"/>
<rect x="786" y="507" width="2" height="9" fill="#d95c5c"/>
<rect x="790" y="507" width="2" height="9" fill="#d95c5c"/>
<rect x="793" y="499" width="2" height="17" fill="#5cd95c"/>
<rect x="797" y="504" width="2" height="12" fill="#5cd95c"/>
<rect x="800" y="496" width="2" height="20" fill="#5cd95c"/>
<rect x="804" y="509" width="2" height="7" fill="#d95c5c"/>
<rect x="807" y="508" width="2" height="8" fill="#5cd95c"/>
<rect x="811" y="507" width="2" height="9" fill="#5cd95c"/>
<rect x="814" y="499" width="2" height="17" fill="#5cd95c"/>
<rect x="818" y="503" width="2" height="13" fill="#5cd95c"/>
<rect x="821" y="506" width="2" height="10" fill="#d95c5c"/>
<rect x="825" y="505" width="2" height="11" fill="#5cd95c"/>
<rect x="828" y="502" width="2" height="14" fill="#d95c5c"/>
<rect x="832" y="509" width="2" height="7" fill="#d95c5c"/>
<rect x="835" y="512" width="2" height="4" fill="#5cd95c"/>
<rect x="838" y="507" width="2" height="9" fill="#d95c5c"/>
<rect x="842" y="496" width="2" height="20" fill="#d95c5c"/>
<rect x="845" y="491" width="2" height="25" fill="#d95c5c"/>
<rect x="849" y="493" width="2" height="23" fill="#d95c5c"/>
<rect x="852" y="508" width="2" height="8" fill="#d95c5c"/>
<rect x="856" y="503" width="2" height="13" fill="#d95c5c"/>
<rect x="859" y="495" width="2" height="21" fill="#d95c5c"/>
<rect x="863" y="508" width="2" height="8" fill="#5cd95c"/>
<rect x="866" y="506" width="2" height="10" fill="#d95c5c"/>
<rect x="870" y="493" width="2" height="23" fill="#d95c5c"/>
<rect x="873" y="490" width="2" height="26" fill="#5cd95c"/>
<rect x="877" y="507" width="2" height="9" fill="#d95c5c"/>
<rect x="880" y="509" width="2" height="7" fill="#d95c5c"/>
<rect x="884" y="507" width="2" height="9" fill="#d95c5c"/>
<rect x="887" y="508" width="2" height="8" fill="#5cd95c"/>
<rect x="891" y="495" width="2" height="21" fill="#5cd95c"/>
<rect x="894" y="495" width="2" height="21" fill="#5cd95c"/>
</g>
<polygon fill="#ff6666" points="3.50,576.20 3.50,564.25 6.50,563.50 10.50,561.00 13.50,561.00 17.50,559.25 20.50,557.50 24.50,563.50 25.79,576.20"/>
<polygon fill="#ff6666" points="700.31,576.20 700.50,575.00 704.50,576.00 707.50,575.50 710.50,573.75 714.50,569.25 717.50,566.00 721.50,570.50 724.50,570.50 726.16,576.20"/>
<polygon fill="#ff6666" points="731.66,576.20 735.50,575.00 738.50,571.00 742.50,566.75 745.50,563.50 749.50,560.50 752.50,559.25 756.50,568.00 759.50,566.75 763.50,565.25 766.50,570.50 770.50,573.00 773.50,573.00 775.47,576.20"/>
<polygon fill="#ff6666" points="800.72,576.20 801.50,574.00 802.85,576.20"/>
<polygon fill="#ff6666" points="810.10,576.20 812.50,574.25 815.50,571.00 819.50,567.00 822.50,573.75 826.50,572.00 829.50,573.50 831.66,576.20"/>
<line x1="1.5" y1="576.5" x2="897" y2="576.5" stroke="#ff5a5a" stroke-width="1" shape-rendering="crispEdges"/>
<line x1="1.5" y1="623.5" x2="897" y2="623.5" stroke="#5a5aff" stroke-width="1" shape-rendering="crispEdges"/>
<polyline fill="none" stroke="#800080" stroke-width="1" stroke-linejoin="round" points="3.50,564.25 6.50,563.50 10.50,561.00 13.50,561.00 17.50,559.25 20.50,557.50 24.50,563.50 27.50,593.00 31.50,594.25 34.50,597.25 38.50,600.50 41.50,609.25 45.50,611.25 48.50,604.75 52.50,609.25 55.50,614.25 59.50,612.50 62.50,619.75 66.50,626.00 69.50,617.25 72.50,613.75 76.50,613.75 79.50,614.50 83.50,619.75 86.50,622.75 90.50,620.50 93.50,613.50 97.50,612.00 100.50,612.50 104.50,609.75 107.50,610.50 111.50,610.50 114.50,608.50 118.50,604.50 121.50,611.25 125.50,611.50 128.50,610.00 132.50,606.75 135.50,605.50 139.50,604.25 142.50,589.25 146.50,592.50 149.50,586.25 153.50,584.50 156.50,592.50 160.50,589.50 163.50,594.75 167.50,596.00 170.50,595.50 174.50,589.25 177.50,590.50 181.50,599.25 184.50,611.75 188.50,617.50 191.50,620.25 195.50,623.25 198.50,620.50 201.50,619.75 205.50,618.75 208.50,612.25 212.50,608.75 215.50,611.50 219.50,608.25 222.50,612.25 226.50,605.50 229.50,608.75 233.50,601.25 236.50,603.50 240.50,605.50 243.50,599.25 247.50,591.25 250.50,597.50 254.50,603.50 257.50,602.50 261.50,606.75 264.50,608.25 268.50,609.25 271.50,588.25 275.50,588.25 278.50,588.25 282.50,586.75 285.50,582.50 289.50,583.25 292.50,586.00 296.50,588.50 299.50,581.25 303.50,587.25 306.50,583.00 310.50,577.00 313.50,585.50 317.50,589.75 320.50,594.25 323.50,595.00 327.50,600.00 330.50,603.50 334.50,605.00 337.50,608.00 341.50,612.50 344.50,605.00 348.50,608.25 351.50,611.25 355.50,609.75 358.50,593.50 362.50,605.25 365.50,602.75 369.50,607.25 372.50,613.50 376.50,618.75 379.50,621.00 383.50,624.00 386.50,624.75 390.50,625.25 393.50,613.75 397.50,610.00 400.50,609.00 404.50,609.75 407.50,606.25 411.50,593.25 414.50,594.25 418.50,596.25 421.50,601.00 425.50,598.00 428.50,598.50 432.50,599.25 435.50,596.25 439.50,591.75 442.50,592.25 446.50,600.00 449.50,601.50 452.50,603.25 456.50,606.75 459.50,610.00 463.50,602.50 466.50,600.00 470.50,589.25 473.50,592.00 477.50,586.50 480.50,594.50 484.50,597.50 487.50,601.25 491.50,602.25 494.50,604.25 498.50,590.50 501.50,596.25 505.50,595.00 508.50,596.50 512.50,592.00 515.50,588.00 519.50,586.25 522.50,585.50 526.50,585.50 529.50,580.25 533.50,590.50 536.50,602.25 540.50,601.00 543.50,595.00 547.50,601.00 550.50,600.00 554.50,597.00 557.50,594.00 561.50,594.50 564.50,601.50 568.50,605.00 571.50,606.25 575.50,608.75 578.50,610.50 581.50,607.25 585.50,606.25 588.50,594.50 592.50,598.00 595.50,592.50 599.50,599.75 602.50,603.25 606.50,600.00 609.50,592.75 613.50,598.00 616.50,602.50 620.50,606.75 623.50,605.00 627.50,597.00 630.50,587.25 634.50,590.25 637.50,591.25 641.50,594.25 644.50,592.00 648.50,588.75 651.50,587.00 655.50,583.25 658.50,584.00 662.50,588.50 665.50,588.00 669.50,585.25 672.50,584.25 676.50,583.00 679.50,585.75 683.50,588.75 686.50,589.50 690.50,590.50 693.50,591.00 697.50,593.50 700.50,575.00 704.50,576.00 707.50,575.50 710.50,573.75 714.50,569.25 717.50,566.00 721.50,570.50 724.50,570.50 728.50,584.25 731.50,576.25 735.50,575.00 738.50,571.00 742.50,566.75 745.50,563.50 749.50,560.50 752.50,559.25 756.50,568.00 759.50,566.75 763.50,565.25 766.50,570.50 770.50,573.00 773.50,573.00 777.50,579.50 780.50,578.00 784.50,584.25 787.50,587.25 791.50,589.25 794.50,586.75 798.50,582.50 801.50,574.00 805.50,580.50 808.50,577.50 812.50,574.25 815.50,571.00 819.50,567.00 822.50,573.75 826.50,572.00 829.50,573.50 833.50,578.50 836.50,577.25 839.50,579.25 843.50,601.25 846.50,609.25 850.50,610.50 853.50,613.50 857.50,616.00 860.50,622.50 864.50,610.00 867.50,611.75 871.50,613.50 874.50,601.00 878.50,601.75 881.50,606.00 885.50,608.00 888.50,603.50 892.50,595.00 895.50,586.25"/>
<text x="901" y="384.8" font-size="10.67" fill="#000" text-anchor="start" >38</text>
<text x="901" y="360.8" font-size="10.67" fill="#000" text-anchor="start" >39</text>
<text x="901" y="336.8" font-size="10.67" fill="#000" text-anchor="start" >40</text>
<text x="901" y="313.8" font-size="10.67" fill="#000" text-anchor="start" >41</text>
<text x="901" y="290.8" font-size="10.67" fill="#000" text-anchor="start" >42</text>
<text x="901" y="268.8" font-size="10.67" fill="#000" text-anchor="start" >43</text>
<text x="901" y="246.8" font-size="10.67" fill="#000" text-anchor="start" >44</text>
<text x="901" y="225.8" font-size="10.67" fill="#000" text-anchor="start" >45</text>
<text x="901" y="204.8" font-size="10.67" fill="#000" text-anchor="start" >46</text>
<text x="901" y="184.8" font-size="10.67" fill="#000" text-anchor="start" >47</text>
<text x="901" y="164.8" font-size="10.67" fill="#000" text-anchor="start" >48</text>
<text x="901" y="144.8" font-size="10.67" fill="#000" text-anchor="start" >49</text>
<text x="901" y="125.8" font-size="10.67" fill="#000" text-anchor="start" >50</text>
<text x="901" y="106.8" font-size="10.67" fill="#000" text-anchor="start" >51</text>
<text x="901" y="88.8" font-size="10.67" fill="#000" text-anchor="start" >52</text>
<text x="901" y="70.8" font-size="10.67" fill="#000" text-anchor="start" >53</text>
<text x="901" y="52.8" font-size="10.67" fill="#000" text-anchor="start" >54</text>
<text x="901" y="35.8" font-size="10.67" fill="#000" text-anchor="start" >55</text>
<text x="79" y="412" font-size="10.67" fill="#000" text-anchor="middle" >Juli</text>
<text x="153" y="412" font-size="10.67" fill="#000" text-anchor="middle" >Aug.</text>
<text x="233" y="412" font-size="10.67" fill="#000" text-anchor="middle" >Sep.</text>
<text x="310" y="412" font-size="10.67" fill="#000" text-anchor="middle" >Okt.</text>
<text x="379" y="412" font-size="10.67" fill="#000" text-anchor="middle" >Nov.</text>
<text x="456" y="412" font-size="10.67" fill="#000" text-anchor="middle" >Dez.</text>
<text x="529.5" y="412" font-size="10.67" fill="#000" text-anchor="middle" >Jan.</text>
<text x="606" y="412" font-size="10.67" fill="#000" text-anchor="middle" >Feb.</text>
<text x="676" y="412" font-size="10.67" fill="#000" text-anchor="middle" >März</text>
<text x="756.5" y="412" font-size="10.67" fill="#000" text-anchor="middle" >April</text>
<text x="819.5" y="412" font-size="10.67" fill="#000" text-anchor="middle" >Mai</text>
<text x="901" y="440" font-size="10.67" fill="#000" text-anchor="start" >20M</text>
<text x="901" y="479" font-size="10.67" fill="#000" text-anchor="start" >10M</text>
<text x="901" y="519" font-size="10.67" fill="#000" text-anchor="start" >0M</text>
<text x="901" y="662.3" font-size="10.67" fill="#000" text-anchor="start" >0</text>
<text x="901" y="638.3" font-size="10.67" fill="#000" text-anchor="start" >20</text>
<text x="901" y="614.3" font-size="10.67" fill="#000" text-anchor="start" >40</text>
<text x="901" y="591.3" font-size="10.67" fill="#000" text-anchor="start" >60</text>
<text x="901" y="567.3" font-size="10.67" fill="#000" text-anchor="start" >80</text>
<text x="901" y="543.3" font-size="10.67" fill="#000" text-anchor="start" >100</text>
<text x="901" y="579.3" font-size="10.67" fill="#ff6666" text-anchor="start" >70</text>
<text x="901" y="626.3" font-size="10.67" fill="#6666ff" text-anchor="start" >30</text>
<rect x="2.5" y="1.5" width="7" height="7" fill="#40ee40" stroke="#000" shape-rendering="crispEdges"/>
<text x="14" y="9.4" font-size="10.67" fill="#000" text-anchor="start" >Cancom (Xetra) (in EUR)</text>
<rect x="2.5" y="423.5" width="7" height="7" fill="#66dd66" stroke="#000" shape-rendering="crispEdges"/>
<text x="14" y="430.8" font-size="10.67" fill="#000" text-anchor="start" >Cancom Volumen in Euro</text>
<rect x="2.5" y="527.5" width="7" height="7" fill="#800080" stroke="#000" shape-rendering="crispEdges"/>
<text x="14" y="534.8" font-size="10.67" fill="#000" text-anchor="start" >RSI (14): 61,522</text>
<rect x="613" y="13" width="7.5" height="43" fill="#fff"/>
<rect x="5.5" y="13.5" width="608" height="42" fill="#fff" stroke="#000" shape-rendering="crispEdges"/>
<text x="8.3" y="27.5" font-size="15.36" fill="#000" text-anchor="start" >Manchmal geht es doch schneller als man denkt:</text>
<text x="8.3" y="45.7" font-size="15.36" fill="#000" text-anchor="start" >Zwei schöne grüne Kerzen und alles ist wieder "in Lot", Unterstützung bei 53 inklusive...</text>
</svg>
</body></html>
